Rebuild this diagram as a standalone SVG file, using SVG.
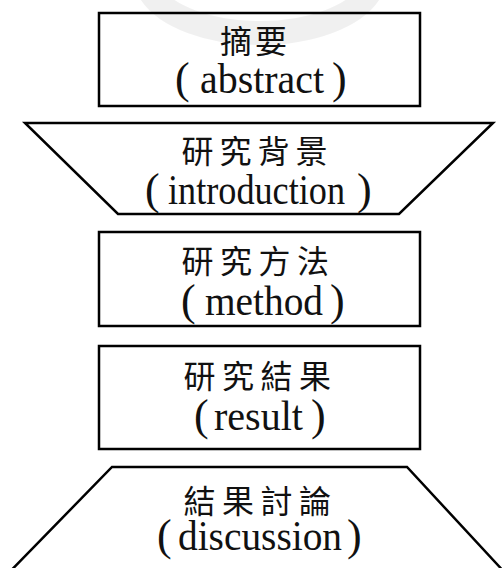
<svg xmlns="http://www.w3.org/2000/svg" width="502" height="568" viewBox="0 0 502 568">
<style>
.shape{fill:#fff;stroke:#000;stroke-width:2.5;stroke-linejoin:miter}
.zh{font-family:"Noto Sans CJK TC","Noto Sans CJK SC",sans-serif;font-size:32px;fill:#111}
.en{font-family:"Liberation Serif",serif;font-size:42px;fill:#111}
.par{font-size:44px}
.wm{fill:none;stroke:#000;stroke-opacity:0.06;stroke-width:24}
</style>
<rect width="502" height="568" fill="#fff"/>
<g id="abstract">
<rect class="shape" x="99" y="13" width="321" height="93"/>
<text class="zh" y="53" x="220 255">摘要</text>
<text class="en" y="93"><tspan class="par" x="175">(</tspan><tspan x="200" textLength="124" lengthAdjust="spacingAndGlyphs">abstract</tspan><tspan class="par" x="332">)</tspan></text>
</g>
<g id="introduction">
<polygon class="shape" points="25,123 493,123 399,214 118,214"/>
<text class="zh" y="163" x="181.5 219.5 257.5 295.5">研究背景</text>
<text class="en" y="204"><tspan class="par" x="145">(</tspan><tspan x="168" textLength="177" lengthAdjust="spacingAndGlyphs">introduction</tspan><tspan class="par" x="357">)</tspan></text>
</g>
<g id="method">
<rect class="shape" x="99" y="232" width="321" height="94"/>
<text class="zh" y="273" x="181.5 220 258.5 297">研究方法</text>
<text class="en" y="315"><tspan class="par" x="181">(</tspan><tspan x="205" textLength="118" lengthAdjust="spacingAndGlyphs">method</tspan><tspan class="par" x="330">)</tspan></text>
</g>
<g id="result">
<rect class="shape" x="99" y="346" width="321" height="103"/>
<text class="zh" y="388" x="183.5 222 260.5 299">研究結果</text>
<text class="en" y="430"><tspan class="par" x="194">(</tspan><tspan x="214" textLength="89" lengthAdjust="spacingAndGlyphs">result</tspan><tspan class="par" x="311">)</tspan></text>
</g>
<g id="discussion">
<polygon class="shape" points="112,467 407,467 502,569.5 12,569.5"/>
<text class="zh" y="513" x="183.5 222 260.5 299">結果討論</text>
<text class="en" y="550"><tspan class="par" x="157">(</tspan><tspan x="178" textLength="164" lengthAdjust="spacingAndGlyphs">discussion</tspan><tspan class="par" x="347">)</tspan></text>
</g>
<path class="wm" d="M150,-8 A115,58 0 0 0 370,-8"/>
<g id="connectors"></g>
</svg>
